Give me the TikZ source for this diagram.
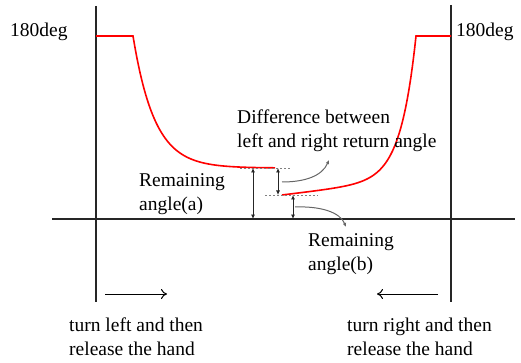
\documentclass[tikz,border=0pt]{standalone}
\usepackage{fontspec}
\setmainfont{Liberation Serif}
\usetikzlibrary{arrows.meta}
\begin{document}
\begin{tikzpicture}[x=1pt,y=-1pt,
  axisline/.style={line width=1.6pt,black!85},
  redcurve/.style={line width=1.6pt,red},
  dimline/.style={line width=0.8pt,black!85,{Latex[length=4.5pt,width=4pt]}-{Latex[length=4.5pt,width=4pt]}},
  guideline/.style={line width=0.7pt,gray,dash pattern=on 2pt off 2pt},
  pointer/.style={line width=1pt,black!60,-{Latex[length=4pt,width=3.5pt]}},
  dirarrow/.style={line width=1pt,black,-{To[length=6pt,width=10pt]}},
  lbl/.style={font=\fontsize{19.5}{24}\selectfont,inner sep=0pt,align=left}]
\useasboundingbox (0,0) rectangle (521,363);
% axes
\coordinate (ax1) at (52,219);
\coordinate (ax2) at (515,219);
\coordinate (lt) at (96,6);
\coordinate (lb) at (96,302);
\coordinate (rt) at (451,5);
\coordinate (rb) at (451,302);
\draw[axisline] (ax1) -- (ax2);
\draw[axisline] (lt) -- (lb);
\draw[axisline] (rt) -- (rb);
% red curves
\draw[redcurve] (96,36) -- (133,36)
  -- plot[domain=133:275,samples=80] (\x,{168-132*exp(-(\x-133)/21.6)});
\draw[redcurve] plot[domain=282:416,samples=80] (\x,{195-0.12*(\x-282)-142.9*exp((\x-416)/15.3)}) -- (451,36);
% guides
\draw[guideline] (240,168) -- (290,168);
\draw[guideline] (265,195) -- (318,195);
% dimension arrows
\coordinate (aT) at (253,168); \coordinate (aB) at (253,219);
\coordinate (dT) at (278,168); \coordinate (dB) at (278,195);
\coordinate (bT) at (293,195); \coordinate (bB) at (293,219);
\draw[dimline] (aT) -- (aB);
\draw[dimline] (dT) -- (dB);
\draw[dimline] (bT) -- (bB);
% pointers
\coordinate (p1s) at (282,182); \coordinate (p1e) at (329,160);
\coordinate (p2s) at (295,207); \coordinate (p2e) at (346,227);
\draw[pointer] (p1s) .. controls (305,182) and (322,176) .. (p1e);
\draw[pointer] (p2s) .. controls (320,206) and (340,212) .. (p2e);
% labels
\node[lbl,anchor=west] (deg1) at (10,32) {180deg};
\node[lbl,anchor=west] (deg2) at (456,32) {180deg};
\node[lbl,anchor=west] (diff) at (237,131) {Difference between\\left and right return angle};
\node[lbl,anchor=west] (rema) at (139,194) {Remaining\\angle(a)};
\node[lbl,anchor=west] (remb) at (308,254) {Remaining\\angle(b)};
\node[lbl,anchor=west] (tl) at (69,337) {turn left and then\\release the hand};
\node[lbl,anchor=west] (tr) at (347,337) {turn right and then\\release the hand};
% direction arrows
\coordinate (la1) at (105,294); \coordinate (la2) at (167,294);
\coordinate (ra1) at (438,294); \coordinate (ra2) at (377,294);
\draw[dirarrow] (la1) -- (la2);
\draw[dirarrow] (ra1) -- (ra2);
\end{tikzpicture}
\end{document}
